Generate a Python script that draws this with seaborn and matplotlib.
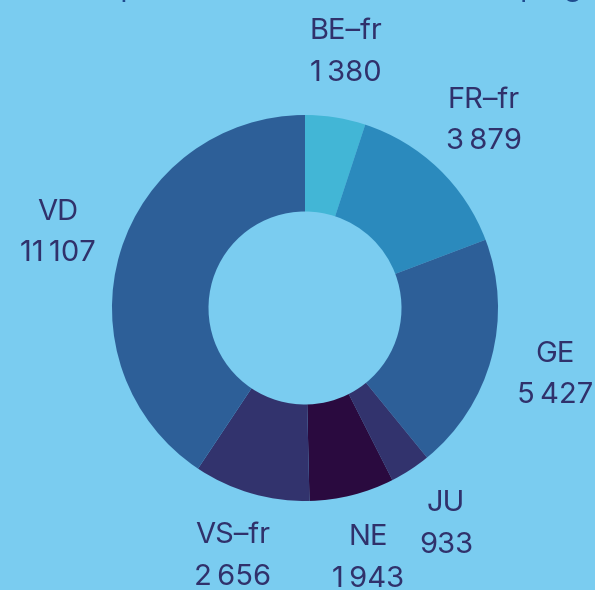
import matplotlib
matplotlib.use("Agg")
import matplotlib.pyplot as plt
import seaborn as sns

# ---- data ----
regions = ["BE–fr", "FR–fr", "GE", "JU", "NE", "VS–fr", "VD"]
counts = [1380, 3879, 5427, 933, 1943, 2656, 11107]
colors = ["#42B6D6", "#2B8ABD", "#2D5F98", "#32336D", "#2A0A3F", "#32336D", "#2D5F98"]
title = "Nombre de personnes (sans double comptage)"

BG = "#7ACCF0"
TXT = "#30316B"

sns.set_theme(style="white", rc={"figure.facecolor": BG, "axes.facecolor": BG,
                                 "savefig.facecolor": BG})
plt.rcParams["font.family"] = ["Inter", "DejaVu Sans"]

W, H = 595, 590
fig = plt.figure(figsize=(W / 100, H / 100), dpi=100)

cx, cy, r = 305, 308, 193
ax = fig.add_axes([(cx - r) / W, (H - cy - r) / H, 2 * r / W, 2 * r / H])

def fmt(v):
    return f"{v:,}".replace(",", "\u2009")

labels = [f"{n}\n{fmt(v)}" for n, v in zip(regions, counts)]

wedges, texts = ax.pie(
    counts, labels=labels, colors=colors, startangle=90, counterclock=False,
    radius=1.0, labeldistance=1.34,
    wedgeprops=dict(width=0.5, edgecolor="none", linewidth=0),
    textprops=dict(color=TXT, fontsize=21, ha="center", va="center",
                   linespacing=1.7),
)
for t in texts:
    t.set_horizontalalignment("center")
    t.set_multialignment("center")
ax.set_xlim(-1, 1)
ax.set_ylim(-1, 1)
ax.set_aspect("equal")
ax.axis("off")

fig.text(-0.07, 1 + 4 / H, title, ha="left", va="baseline",
         fontsize=21, color="#1F4C8F")

fig.savefig("out.png", dpi=100, facecolor=BG)
